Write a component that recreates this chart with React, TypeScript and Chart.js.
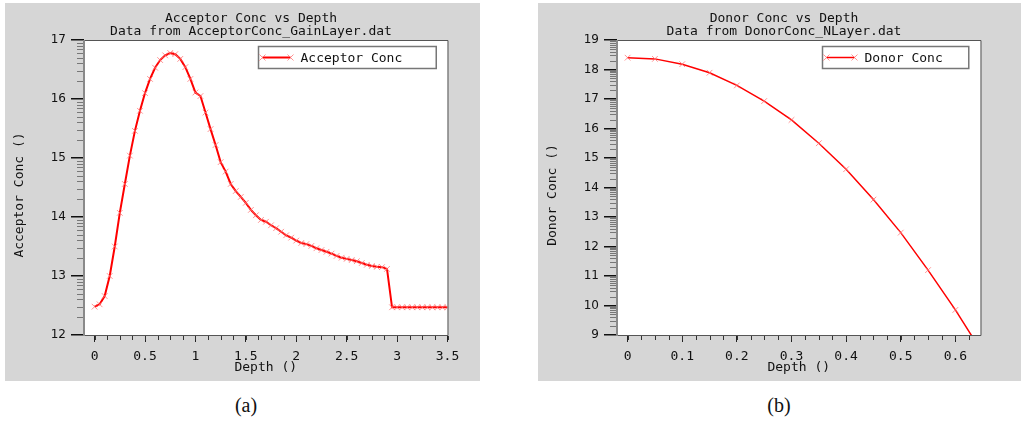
import React, { useEffect, useRef } from "react";
import { Chart, registerables } from "chart.js";

Chart.register(...registerables);

// ---------- Data ----------
const ACC_DEPTH = [
  0, 0.05, 0.1, 0.15, 0.2, 0.25, 0.3, 0.35, 0.4, 0.45,
  0.5, 0.55, 0.6, 0.65, 0.7, 0.75, 0.8, 0.85, 0.9, 0.95,
  1.0, 1.05, 1.1, 1.15, 1.2, 1.25, 1.3, 1.35, 1.4, 1.45,
  1.5, 1.55, 1.6, 1.65, 1.7, 1.75, 1.8, 1.85, 1.9, 1.95,
  2.0, 2.05, 2.1, 2.15, 2.2, 2.25, 2.3, 2.35, 2.4, 2.45,
  2.5, 2.55, 2.6, 2.65, 2.7, 2.75, 2.8, 2.85, 2.9, 2.95,
  3.0, 3.05, 3.1, 3.15, 3.2, 3.25, 3.3, 3.35, 3.4, 3.45, 3.5,
];
const ACC_CONC = [
  12.48, 12.52, 12.66, 13.0, 13.5, 14.07, 14.56, 15.04, 15.46, 15.8,
  16.1, 16.34, 16.53, 16.66, 16.74, 16.78, 16.76, 16.68, 16.54, 16.34,
  16.11, 16.05, 15.77, 15.49, 15.22, 14.93, 14.77, 14.56, 14.44, 14.34,
  14.24, 14.12, 14.03, 13.95, 13.92, 13.86, 13.81, 13.75, 13.69, 13.65,
  13.6, 13.56, 13.54, 13.51, 13.47, 13.44, 13.41, 13.38, 13.34, 13.31,
  13.29, 13.27, 13.25, 13.22, 13.19, 13.17, 13.155, 13.15, 13.12, 12.47,
  12.47, 12.47, 12.47, 12.47, 12.47, 12.47, 12.47, 12.47, 12.47, 12.47, 12.47,
];
const DON_DEPTH = [0, 0.05, 0.1, 0.15, 0.2, 0.25, 0.3, 0.35, 0.4, 0.45, 0.5, 0.55, 0.6, 0.646];
const DON_CONC = [18.4, 18.36, 18.18, 17.89, 17.46, 16.93, 16.29, 15.5, 14.62, 13.59, 12.47, 11.2, 9.85, 8.5];

const ACC_X_TICKS = [0, 0.5, 1, 1.5, 2, 2.5, 3, 3.5];
const ACC_Y_TICKS = [12, 13, 14, 15, 16, 17];
const DON_X_TICKS = [0, 0.1, 0.2, 0.3, 0.4, 0.5, 0.6];
const DON_Y_TICKS = [9, 10, 11, 12, 13, 14, 15, 16, 17, 18, 19];

const MONO = '"DejaVu Sans Mono", monospace';
const GRAY_BG = "#d6d6d6";
const MARK = "rgba(255,110,110,0.75)";

type PanelCfg = {
  title1: string;
  title2: string;
  xTitle: string;
  yTitle: string;
  label: string;
  xs: number[];
  ys: number[];
  xTicks: number[];
  yTicks: number[];
  xMin: number;
  xMax: number;
  yMin: number;
  yMax: number;
  xMinorStep: number;
  lineWidth: number;
  legendPadR: number;
  width: number;
};

const H = 378;

function makeDecor(cfg: PanelCfg) {
  return {
    id: "decor",
    beforeDraw(chart: any) {
      const { ctx, chartArea: ca } = chart;
      ctx.save();
      ctx.fillStyle = "#ffffff";
      ctx.fillRect(ca.left, ca.top, ca.right - ca.left, ca.bottom - ca.top);
      ctx.restore();
    },
    afterDraw(chart: any) {
      const { ctx, chartArea: ca } = chart;
      const xs = chart.scales.x;
      const ys = chart.scales.y;
      ctx.save();
      // frame
      ctx.strokeStyle = "#555";
      ctx.lineWidth = 1;
      ctx.beginPath();
      ctx.moveTo(ca.left, ca.top + 0.5);
      ctx.lineTo(ca.right + 0.5, ca.top + 0.5);
      ctx.lineTo(ca.right + 0.5, ca.bottom + 0.5);
      ctx.lineTo(ca.left, ca.bottom + 0.5);
      ctx.stroke();
      // left axis
      ctx.strokeStyle = "#8a8a8a";
      ctx.lineWidth = 2;
      ctx.beginPath();
      ctx.moveTo(ca.left, ca.top);
      ctx.lineTo(ca.left, ca.bottom + 1);
      ctx.stroke();

      // y minor ticks (log-style)
      ctx.strokeStyle = "#777";
      ctx.lineWidth = 1;
      ctx.beginPath();
      for (let n = cfg.yMin; n < cfg.yMax; n++) {
        for (let k = 2; k <= 9; k++) {
          const v = n + Math.log10(k);
          const py = Math.round(ys.getPixelForValue(v)) + 0.5;
          ctx.moveTo(ca.left - 7, py);
          ctx.lineTo(ca.left - 1, py);
        }
      }
      ctx.stroke();
      // x minor ticks
      ctx.strokeStyle = "#333";
      ctx.beginPath();
      const first = cfg.xTicks[0];
      for (let i = 0; ; i++) {
        const v = first + i * cfg.xMinorStep;
        if (v > cfg.xMax + 1e-9) break;
        const px = Math.round(xs.getPixelForValue(v)) + 0.5;
        ctx.moveTo(px, ca.bottom + 1);
        ctx.lineTo(px, ca.bottom + 5);
      }
      ctx.stroke();

      // titles
      ctx.fillStyle = "#111";
      ctx.font = `13px ${MONO}`;
      ctx.textAlign = "center";
      ctx.textBaseline = "middle";
      ctx.fillText(cfg.title1, 246, 16);
      ctx.fillText(cfg.title2, 246, 29);
      // x axis title
      ctx.fillText(cfg.xTitle, (ca.left + ca.right) / 2, 365);
      // y axis title
      ctx.save();
      ctx.translate(15, 192);
      ctx.rotate(-Math.PI / 2);
      ctx.fillText(cfg.yTitle, 0, 0);
      ctx.restore();

      // legend
      const tw = ctx.measureText(cfg.label).width;
      const bw = 4 + 28 + 10 + tw + cfg.legendPadR;
      const bh = 22;
      const bx = Math.round(ca.right - 12 - bw) + 0.5;
      const by = ca.top + 6.5;
      ctx.fillStyle = "#fff";
      ctx.fillRect(bx, by, bw, bh);
      ctx.strokeStyle = "#777";
      ctx.lineWidth = 1.5;
      ctx.strokeRect(bx, by, bw, bh);
      const ly = by + bh / 2;
      ctx.strokeStyle = "#ff0000";
      ctx.lineWidth = cfg.lineWidth;
      ctx.beginPath();
      ctx.moveTo(bx + 4, ly);
      ctx.lineTo(bx + 32, ly);
      ctx.stroke();
      ctx.strokeStyle = MARK;
      ctx.lineWidth = 1;
      for (const cx of [bx + 4, bx + 32]) {
        ctx.beginPath();
        ctx.moveTo(cx - 3, ly - 3);
        ctx.lineTo(cx + 3, ly + 3);
        ctx.moveTo(cx - 3, ly + 3);
        ctx.lineTo(cx + 3, ly - 3);
        ctx.stroke();
      }
      ctx.fillStyle = "#111";
      ctx.textAlign = "left";
      ctx.fillText(cfg.label, bx + 42, ly + 1);
      ctx.restore();
    },
  };
}

function Panel({ cfg }: { cfg: PanelCfg }) {
  const ref = useRef<HTMLCanvasElement | null>(null);
  useEffect(() => {
    if (!ref.current) return;
    const points = cfg.xs.map((x, i) => ({ x, y: cfg.ys[i] }));
    const chart = new Chart(ref.current, {
      type: "line",
      data: {
        datasets: [
          {
            label: cfg.label,
            data: points,
            borderColor: "#ff0000",
            borderWidth: cfg.lineWidth,
            pointStyle: "crossRot",
            pointRadius: 4,
            pointBorderColor: MARK,
            pointBackgroundColor: MARK,
            pointBorderWidth: 1,
            tension: 0,
            fill: false,
            clip: 0,
          } as any,
        ],
      },
      options: {
        animation: false,
        responsive: false,
        devicePixelRatio: 1,
        events: [],
        layout: { padding: { top: 37, right: cfg.width - 442.5, bottom: 0, left: 0 } },
        plugins: { legend: { display: false }, title: { display: false }, tooltip: { enabled: false } },
        scales: {
          x: {
            type: "linear",
            min: cfg.xMin,
            max: cfg.xMax,
            afterBuildTicks: (s: any) => {
              s.ticks = cfg.xTicks.map((v) => ({ value: v }));
            },
            afterFit: (s: any) => {
              s.height = H - 332;
            },
            grid: { display: true, drawOnChartArea: false, drawTicks: true, tickLength: 7, color: "#222", lineWidth: 1 },
            border: { display: false },
            ticks: {
              autoSkip: false,
              maxRotation: 0,
              padding: 7,
              color: "#111",
              font: { family: MONO, size: 13 },
              callback: (v: any) => String(v),
            },
          },
          y: {
            type: "linear",
            min: cfg.yMin,
            max: cfg.yMax,
            afterBuildTicks: (s: any) => {
              s.ticks = cfg.yTicks.map((v) => ({ value: v }));
            },
            afterFit: (s: any) => {
              s.width = 79;
            },
            grid: { display: true, drawOnChartArea: false, drawTicks: true, tickLength: 13, color: "#111", lineWidth: 1.5 },
            border: { display: false },
            ticks: {
              autoSkip: false,
              padding: 5,
              color: "#111",
              font: { family: '"DejaVu Sans", sans-serif', size: 12 },
              callback: (v: any) => String(v),
            },
          },
        },
      } as any,
      plugins: [makeDecor(cfg)],
    });
    return () => chart.destroy();
  }, [cfg]);
  return <canvas ref={ref} width={cfg.width} height={H} style={{ display: "block", width: cfg.width, height: H }} />;
}

const ACC_CFG: PanelCfg = {
  title1: "Acceptor Conc vs Depth",
  title2: "Data from AcceptorConc_GainLayer.dat",
  xTitle: "Depth ()",
  yTitle: "Acceptor Conc ()",
  label: "Acceptor Conc",
  xs: ACC_DEPTH,
  ys: ACC_CONC,
  xTicks: ACC_X_TICKS,
  yTicks: ACC_Y_TICKS,
  xMin: -0.105,
  xMax: 3.5,
  yMin: 12,
  yMax: 17,
  xMinorStep: 0.125,
  lineWidth: 2,
  legendPadR: 34,
  width: 475,
};

const DON_CFG: PanelCfg = {
  title1: "Donor Conc vs Depth",
  title2: "Data from DonorConc_NLayer.dat",
  xTitle: "Depth ()",
  yTitle: "Donor Conc ()",
  label: "Donor Conc",
  xs: DON_DEPTH,
  ys: DON_CONC,
  xTicks: DON_X_TICKS,
  yTicks: DON_Y_TICKS,
  xMin: -0.0194,
  xMax: 0.646,
  yMin: 9,
  yMax: 19,
  xMinorStep: 0.025,
  lineWidth: 1.5,
  legendPadR: 26,
  width: 483,
};

const captionStyle = {
  position: "absolute" as const,
  width: 100,
  top: 394,
  textAlign: "center" as const,
  font: '20px "Liberation Serif", serif',
  color: "#111",
};

export default function App() {
  return (
    <div style={{ position: "absolute", left: 0, top: 0, width: 1021, height: 422, background: "#fff", overflow: "hidden" }}>
      <div style={{ position: "absolute", left: 5, top: 3, width: 475, height: H, background: GRAY_BG }}>
        <Panel cfg={ACC_CFG} />
      </div>
      <div style={{ position: "absolute", left: 538, top: 3, width: 483, height: H, background: GRAY_BG }}>
        <Panel cfg={DON_CFG} />
      </div>
      <div style={{ ...captionStyle, left: 196 }}>(a)</div>
      <div style={{ ...captionStyle, left: 729 }}>(b)</div>
    </div>
  );
}
